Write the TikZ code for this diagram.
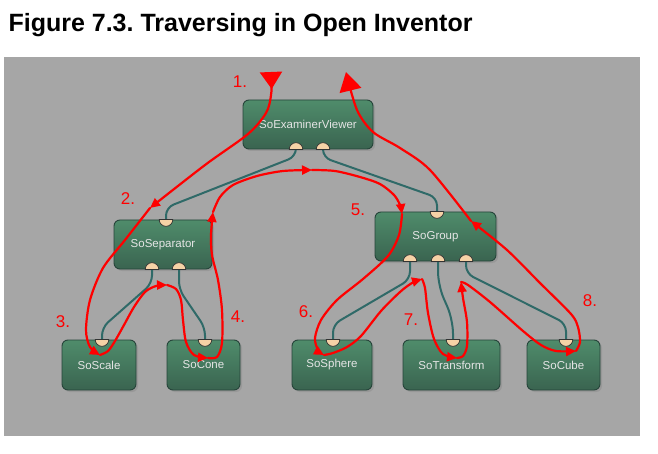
\documentclass[tikz,border=0pt]{standalone}
\usepackage{fontspec}
\setmainfont{Liberation Sans}
\usetikzlibrary{arrows.meta, calc, shadows}

\definecolor{panel}{HTML}{A6A6A6}
\definecolor{boxtop}{HTML}{4F8C6B}
\definecolor{boxbot}{HTML}{3A6450}
\definecolor{boxedge}{HTML}{26443A}
\definecolor{linkcol}{HTML}{2F6A68}
\definecolor{knobcol}{HTML}{F6D2A6}
\definecolor{travred}{HTML}{FF0000}

\tikzset{
  box/.style={rounded corners=6pt, draw=boxedge, line width=0.9pt,
    top color=boxtop, bottom color=boxbot, minimum height=49pt, inner sep=0pt,
    text=white!90!black, font=\fontsize{11.5}{13}\selectfont,
    drop shadow={shadow xshift=2pt, shadow yshift=-2pt, opacity=0.35}},
  link/.style={draw=linkcol, line width=2pt, rounded corners=8pt},
  knob/.style={fill=knobcol, draw=black!80, line width=0.7pt},
  trav/.style={draw=travred, line width=2.2pt, line cap=round, line join=round},
  travtip/.style={-{Triangle[length=10pt,width=9pt]}},
  num/.style={text=travred, font=\fontsize{17}{17}\selectfont}
}

\begin{document}
\frenchspacing
\begin{tikzpicture}[x=1pt, y=-1pt]
  \useasboundingbox (0,0) rectangle (658,454);
  \fill[white] (0,0) rectangle (658,454);
  \node[anchor=base west, font=\fontsize{25}{25}\selectfont\bfseries] (title) at (5,32)
    {Figure 7.3. Traversing in Open Inventor};
  \fill[panel] (4,57) rectangle (640,436);

  % scene graph
  \node[box, minimum width=130pt] (sev) at (308,124.5) {SoExaminerViewer};
  \node[box, minimum width=98pt] (sep) at (163,244.5) {SoSeparator};
  \node[box, minimum width=121pt] (grp) at (435.5,236.5) {SoGroup};
  \node[box, minimum width=74pt, minimum height=50pt] (scale) at (99,365) {SoScale};
  \node[box, minimum width=73pt, minimum height=50pt] (cone) at (203.5,365) {SoCone};
  \node[box, minimum width=80pt, minimum height=50pt] (sphere) at (332,365) {SoSphere};
  \node[box, minimum width=97pt, minimum height=50pt] (xform) at (451.5,365) {SoTransform};
  \node[box, minimum width=73pt, minimum height=50pt] (cube) at (563.5,365) {SoCube};

  % ports
  \coordinate (sev-k1) at ([xshift=-12pt]sev.south);
  \coordinate (sev-k2) at ([xshift=15pt]sev.south);
  \coordinate (sep-t) at ([xshift=3pt]sep.north);
  \coordinate (sep-k1) at ([xshift=-11pt]sep.south);
  \coordinate (sep-k2) at ([xshift=16pt]sep.south);
  \coordinate (grp-t) at ([xshift=1.5pt]grp.north);
  \coordinate (grp-k1) at ([xshift=-25.5pt]grp.south);
  \coordinate (grp-k2) at ([xshift=2.5pt]grp.south);
  \coordinate (grp-k3) at ([xshift=30.5pt]grp.south);
  \coordinate (scale-t) at ([xshift=3pt]scale.north);
  \coordinate (cone-t) at ([xshift=1.5pt]cone.north);
  \coordinate (sphere-t) at ([xshift=1pt]sphere.north);
  \coordinate (xform-t) at ([xshift=1.5pt]xform.north);
  \coordinate (cube-t) at ([xshift=2.5pt]cube.north);

  % links
  \draw[link] (sev-k1) -- ++(0,7) -- ($(sep-t)+(0,-12)$) -- (sep-t);
  \draw[link] (sev-k2) -- ++(0,8) -- ($(grp-t)+(0,-14)$) -- (grp-t);
  \draw[link] (sep-k1) -- ++(0,14) -- ($(scale-t)+(0,-12)$) -- (scale-t);
  \draw[link] (sep-k2) -- ++(0,20) -- ($(cone-t)+(0,-12)$) -- (cone-t);
  \draw[link] (grp-k1) -- ++(0,18) -- ($(sphere-t)+(0,-15)$) -- (sphere-t);
  \draw[link, rounded corners=14pt] (grp-k2) -- ++(0,24) -- ($(xform-t)+(0,-20)$) -- (xform-t);
  \draw[link] (grp-k3) -- ++(0,12) -- ($(cube-t)+(0,-16)$) -- (cube-t);

  \foreach \k in {sev-k1,sev-k2,sep-k1,sep-k2,grp-k1,grp-k2,grp-k3}
    \filldraw[knob] ($(\k)+(-6.8,0)$) arc[start angle=180, end angle=360, radius=6.8] -- cycle;
  \foreach \k in {sep-t,grp-t,scale-t,cone-t,sphere-t,xform-t,cube-t}
    \filldraw[knob] ($(\k)+(-6.8,0)$) arc[start angle=180, end angle=0, radius=6.8] -- cycle;

  % traversal
  \coordinate (t0) at (271,72);   \coordinate (t1) at (150,208);
  \coordinate (t2) at (100,355);  \coordinate (t3) at (167,285);
  \coordinate (t4) at (208,358);  \coordinate (t5) at (213,212);
  \coordinate (t6) at (312,170);  \coordinate (t7) at (402,214);
  \coordinate (t8) at (324,355);  \coordinate (t9) at (422,279);
  \coordinate (t10) at (457,358); \coordinate (t11) at (461,282);
  \coordinate (t12) at (576,351); \coordinate (t13) at (471,221);
  \coordinate (t14) at (346,72);

  \draw[trav, {Triangle[reversed,length=17pt,width=22pt]}-{Triangle[length=10pt,width=9pt]}]
    plot[smooth] coordinates {(t0) (271,95) (266,113) (248,134) (205,165) (t1)};
  \draw[trav, travtip] plot[smooth] coordinates
    {(t1) (125,240) (103,268) (90,300) (86,330) (90,347) (t2)};
  \draw[trav, travtip] plot[smooth] coordinates
    {(t2) (108,351) (115,341) (124,325) (134,307) (145,292) (156,286) (t3)};
  \draw[trav, travtip] plot[smooth] coordinates
    {(t3) (176,289) (181,300) (183,320) (186,342) (194,355) (t4)};
  \draw[trav, travtip] plot[smooth] coordinates
    {(t4) (217,357) (222,343) (222,310) (218,280) (212,255) (211,235) (t5)};
  \draw[trav, travtip] plot[smooth] coordinates
    {(t5) (220,197) (233,185) (257,176) (283,171) (t6)};
  \draw[trav, travtip] plot[smooth] coordinates
    {(t6) (335,171) (360,177) (380,184) (394,195) (400,205) (t7)};
  \draw[trav, travtip] plot[smooth] coordinates
    {(t7) (399,235) (388,256) (363,279) (337,300) (321,320) (315,338) (318,350) (t8)};
  \draw[trav, travtip] plot[smooth] coordinates
    {(t8) (333,353) (347,347) (361,336) (381,311) (400,292) (412,283) (t9)};
  \draw[trav, travtip] plot[smooth] coordinates
    {(t9) (425,288) (428,313) (434,339) (443,354) (t10)};
  \draw[trav, travtip] plot[smooth] coordinates
    {(t10) (463,356) (467,346) (467,322) (463,298) (t11)};
  \draw[trav, travtip] plot[smooth] coordinates
    {(t11) (468,285) (490,302) (523,331) (541,345) (556,351) (t12)};
  \draw[trav, travtip] plot[smooth] coordinates
    {(t12) (580,342) (578,327) (571,314) (540,283) (507,250) (t13)};
  \draw[trav, -{Triangle[length=19pt,width=22pt]}] plot[smooth] coordinates
    {(t13) (430,170) (400,148) (373,132) (357,110) (t14)};

  % step numbers
  \node[num] (n1) at (240,82) {1.};
  \node[num] (n2) at (128,199) {2.};
  \node[num] (n3) at (63,322) {3.};
  \node[num] (n4) at (238,317) {4.};
  \node[num] (n5) at (358,210) {5.};
  \node[num] (n6) at (306,312) {6.};
  \node[num] (n7) at (411,320) {7.};
  \node[num] (n8) at (590,301) {8.};
\end{tikzpicture}
\end{document}
